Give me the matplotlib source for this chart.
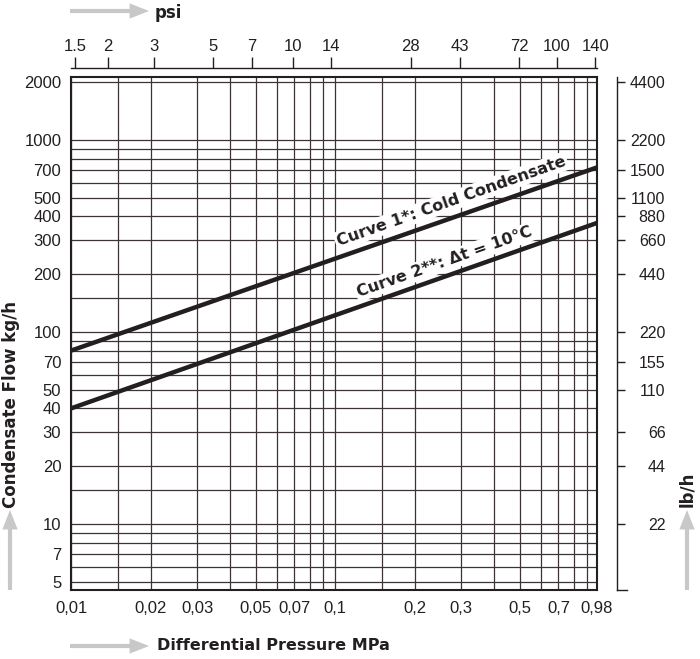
"""
Condensate flow vs differential pressure (log-log chart with psi / lb/h scales)
"""

# %% Imports

import matplotlib
matplotlib.use('Agg')
import matplotlib.pyplot as plt
from matplotlib.ticker import FixedLocator, NullLocator, NullFormatter
from matplotlib.lines import Line2D


# %% Data

pressure_mpa = [0.01, 0.98]
curve1_kgh = [80, 720]
curve2_kgh = [40, 370]

x_ticks = [0.01, 0.02, 0.03, 0.05, 0.07, 0.1, 0.2, 0.3, 0.5, 0.7, 0.98]
x_labels = ['0,01', '0,02', '0,03', '0,05', '0,07', '0,1', '0,2', '0,3',
            '0,5', '0,7', '0,98']
x_grid = [0.01, 0.015, 0.02, 0.03, 0.04, 0.05, 0.06, 0.07, 0.08, 0.09, 0.1,
          0.15, 0.2, 0.3, 0.4, 0.5, 0.6, 0.7, 0.8, 0.9, 0.98]

psi_ticks = [1.5, 2, 3, 5, 7, 10, 14, 28, 43, 72, 100, 140]
psi_labels = ['1.5', '2', '3', '5', '7', '10', '14', '28', '43', '72',
              '100', '140']

y_ticks = [5, 7, 10, 20, 30, 40, 50, 70, 100, 200, 300, 400, 500, 700,
           1000, 2000]
y_grid = [5, 6, 7, 8, 9, 10, 15, 20, 30, 40, 50, 60, 70, 80, 90, 100, 150,
          200, 300, 400, 500, 600, 700, 800, 900, 1000, 2000]

lb_ticks_kg = [10, 20, 30, 50, 70, 100, 200, 300, 400, 500, 700, 1000, 2000]
lb_labels = ['22', '44', '66', '110', '155', '220', '440', '660', '880',
             '1100', '1500', '2200', '4400']

MPA_TO_PSI = 145.04


# %% Style

ink = '#231f20'
gridc = '#3c3434'
arrowc = '#c8c8c8'
num_font = ['Liberation Sans', 'DejaVu Sans']
bold_font = ['DejaVu Sans']
num_size = 12


# %% Figure

W, H = 700, 659
fig = plt.figure(figsize=(W / 100, H / 100), dpi=100)
ax = fig.add_axes([71 / W, 1 - 590 / H, 526 / W, 513 / H])

ax.set_xscale('log')
ax.set_yscale('log')
ax.set_xlim(0.01, 0.98)
ax.set_ylim(4.53, 2130)

# curves
ax.plot(pressure_mpa, curve1_kgh, color=ink, lw=3.2, solid_capstyle='butt',
        zorder=3)
ax.plot(pressure_mpa, curve2_kgh, color=ink, lw=3.2, solid_capstyle='butt',
        zorder=3)

# grid: labelled values are major ticks, remaining grid lines are minor
ax.xaxis.set_major_locator(FixedLocator(x_ticks))
ax.xaxis.set_major_formatter(plt.FixedFormatter(x_labels))
ax.xaxis.set_minor_locator(FixedLocator(x_grid))
ax.xaxis.set_minor_formatter(NullFormatter())
ax.yaxis.set_major_locator(FixedLocator(y_ticks))
ax.yaxis.set_major_formatter(plt.FixedFormatter([str(v) for v in y_ticks]))
ax.yaxis.set_minor_locator(FixedLocator(y_grid))
ax.yaxis.set_minor_formatter(NullFormatter())
ax.grid(which='both', color=gridc, lw=0.9)
ax.tick_params(which='both', length=0)
ax.tick_params(axis='x', pad=8, labelsize=num_size, labelcolor=ink)
ax.tick_params(axis='y', pad=7, labelsize=num_size, labelcolor=ink)
for lab in ax.get_xticklabels() + ax.get_yticklabels():
    lab.set_family(num_font)
for s in ax.spines.values():
    s.set_color(ink)
    s.set_linewidth(1.5)

# curve labels
box = dict(facecolor='white', edgecolor='none', pad=1.5)
ax.text(0.275, 480, 'Curve 1*: Cold Condensate', rotation=19.5,
        ha='center', va='center', fontsize=11.5, fontweight='bold',
        color=ink, family=bold_font, bbox=box, zorder=4)
ax.text(0.26, 232, 'Curve 2**: \u0394t = 10\u00b0C', rotation=19.5,
        ha='center', va='center', fontsize=11.5, fontweight='bold',
        color=ink, family=bold_font, bbox=box, zorder=4)


# %% psi scale on top

sec = ax.secondary_xaxis(1.0175, functions=(lambda x: x * MPA_TO_PSI,
                                            lambda p: p / MPA_TO_PSI))
sec.set_xticks(psi_ticks, labels=psi_labels)
sec.xaxis.set_minor_locator(NullLocator())
sec.tick_params(direction='out', length=8, width=1, color=ink, pad=2,
                labelsize=num_size, labelcolor=ink)
for lab in sec.get_xticklabels():
    lab.set_family(num_font)
sec.spines['top'].set_color(ink)
sec.spines['top'].set_linewidth(1)


# %% lb/h scale on the right

ax2 = ax.twinx()
ax2.set_yscale('log')
ax2.set_ylim(ax.get_ylim())
ax2.set_yticks(lb_ticks_kg, labels=lb_labels)
ax2.yaxis.set_minor_locator(NullLocator())
for k in ['top', 'bottom', 'left']:
    ax2.spines[k].set_visible(False)
ax2.spines['right'].set_position(('outward', 14.4))   # 20 px
ax2.spines['right'].set_color(ink)
ax2.spines['right'].set_linewidth(1)
ax2.tick_params(direction='out', length=6, width=1, color=ink, pad=29,
                labelsize=11.5, labelcolor=ink)
for lab in ax2.get_yticklabels():
    lab.set_family(num_font)
    lab.set_horizontalalignment('right')

# small hook at the foot of the lb/h axis
fig.add_artist(Line2D([617 / W, 627 / W], [1 - 590 / H, 1 - 590 / H],
                      color=ink, lw=1, transform=fig.transFigure))


# %% Axis titles and arrows

arrow = dict(width=3, headwidth=11, headlength=14, color=arrowc, lw=0)

ax.annotate('', xy=(149, H - 11), xytext=(70, H - 11),
            xycoords='figure pixels', arrowprops=arrow)
fig.text(155 / W, 1 - 13 / H, 'psi', ha='left', va='center', fontsize=12,
         fontweight='bold', color=ink, family=bold_font)

ax.annotate('', xy=(149, 13), xytext=(70, 13),
            xycoords='figure pixels', arrowprops=arrow)
fig.text(157 / W, 13 / H, 'Differential Pressure MPa', ha='left',
         va='center', fontsize=11.5, fontweight='bold', color=ink,
         family=bold_font)

ax.annotate('', xy=(10, H - 510), xytext=(10, H - 590),
            xycoords='figure pixels', arrowprops=arrow)
fig.text(11 / W, 1 - 405 / H, 'Condensate Flow kg/h', rotation=90,
         ha='center', va='center', fontsize=12, fontweight='bold',
         color=ink, family=bold_font)

ax.annotate('', xy=(687, H - 510), xytext=(687, H - 590),
            xycoords='figure pixels', arrowprops=arrow)
fig.text(687 / W, 1 - 489 / H, 'lb/h', rotation=90, ha='center',
         va='center', fontsize=12, fontweight='bold', color=ink,
         family=bold_font)

fig.savefig('out.png', dpi=100)
